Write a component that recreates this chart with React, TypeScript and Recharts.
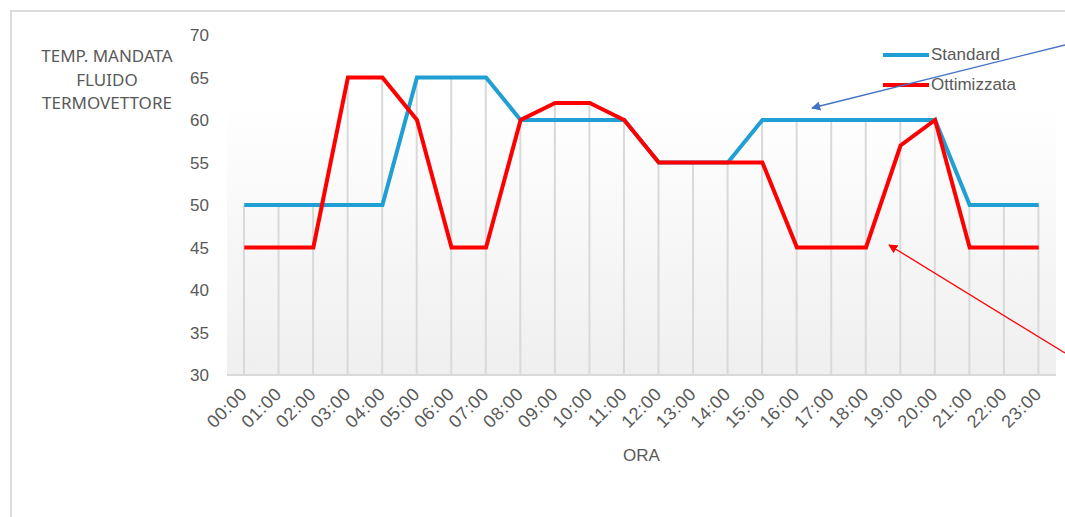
import React from 'react';
import { ComposedChart, Line, Bar, XAxis, YAxis, CartesianGrid, Legend } from 'recharts';

const HOURS = [
  '00:00', '01:00', '02:00', '03:00', '04:00', '05:00', '06:00', '07:00',
  '08:00', '09:00', '10:00', '11:00', '12:00', '13:00', '14:00', '15:00',
  '16:00', '17:00', '18:00', '19:00', '20:00', '21:00', '22:00', '23:00',
];
const STANDARD = [50, 50, 50, 50, 50, 65, 65, 65, 60, 60, 60, 60, 55, 55, 55, 60, 60, 60, 60, 60, 60, 50, 50, 50];
const OTTIMIZZATA = [45, 45, 45, 65, 65, 60, 45, 45, 60, 62, 62, 60, 55, 55, 55, 55, 45, 45, 45, 57, 60, 45, 45, 45];
const Y_TICKS = [30, 35, 40, 45, 50, 55, 60, 65, 70];
const SERIES_ORDER = ['Standard', 'Ottimizzata'];

const data = HOURS.map((h, i) => ({
  ora: h,
  standard: STANDARD[i],
  ottimizzata: OTTIMIZZATA[i],
  drop: Math.max(STANDARD[i], OTTIMIZZATA[i]),
}));

const TEXT = '#595959';
const FONT = '"Liberation Sans", Arial, sans-serif';

const XTick = (props: any) => {
  const { x, y, payload } = props;
  return (
    <text
      x={x + 4}
      y={y + 12}
      transform={`rotate(-45, ${x + 4}, ${y + 12})`}
      textAnchor="end"
      fill={TEXT}
      fontSize={18}
      fontFamily={FONT}
      letterSpacing={0.6}
    >
      {payload.value}
    </text>
  );
};

const LegendBox = (props: any) => {
  const items = (props.payload || [])
    .filter((p: any) => p.dataKey !== 'drop')
    .sort((a: any, b: any) => SERIES_ORDER.indexOf(a.value) - SERIES_ORDER.indexOf(b.value));
  return (
    <div style={{ fontFamily: FONT, fontSize: 17, color: TEXT }}>
      {items.map((p: any) => (
        <div key={p.value} style={{ display: 'flex', alignItems: 'center', height: 30 }}>
          <div style={{ width: 46, height: 4, background: p.color, marginRight: 2 }} />
          <span>{p.value}</span>
        </div>
      ))}
    </div>
  );
};

const App: React.FC = () => {
  return (
    <div style={{ position: 'absolute', left: 0, top: 0, width: 1065, height: 517, background: '#fff', overflow: 'hidden' }}>
      <div
        style={{
          position: 'absolute', left: 10, top: 10, width: 1100, height: 560,
          borderLeft: '2px solid #dcdcdc', borderTop: '2px solid #dcdcdc',
        }}
      />
      <div
        style={{
          position: 'absolute', left: 22, top: 44, width: 170, textAlign: 'center',
          fontFamily: '"Noto Sans", sans-serif', fontSize: 17, lineHeight: '23.5px', color: TEXT,
        }}
      >
        TEMP. MANDATA<br />FLUIDO<br />TERMOVETTORE
      </div>
      <div style={{ position: 'absolute', left: 0, top: 0 }}>
        <ComposedChart
          width={1065}
          height={517}
          data={data}
          margin={{ top: 35, right: 9, bottom: 42, left: 167 }}
          barCategoryGap={0}
        >
          <defs>
            <linearGradient id="plotBg" x1="0" y1="0" x2="0" y2="1">
              <stop offset="0%" stopColor="#ffffff" />
              <stop offset="20%" stopColor="#ffffff" />
              <stop offset="100%" stopColor="#efefef" />
            </linearGradient>
          </defs>
          <CartesianGrid horizontal={false} vertical={false} fill="url(#plotBg)" />
          <XAxis
            dataKey="ora"
            height={100}
            interval={0}
            tickLine={false}
            axisLine={{ stroke: '#d9d9d9', strokeWidth: 2 }}
            tick={<XTick />}
            label={{ value: 'ORA', position: 'insideBottom', offset: 14, fill: TEXT, fontSize: 17, fontFamily: FONT }}
          />
          <YAxis
            width={60}
            domain={[30, 70]}
            ticks={Y_TICKS}
            interval={0}
            axisLine={false}
            tickLine={false}
            tickMargin={12}
            tick={{ fill: TEXT, fontSize: 17, fontFamily: FONT }}
          />
          <Legend
            layout="vertical"
            align="center"
            verticalAlign="middle"
            wrapperStyle={{ top: 40, left: 883, width: 170 }}
            content={<LegendBox />}
          />
          <Bar dataKey="drop" fill="#d9d9d9" barSize={2} isAnimationActive={false} legendType="none" />
          <Line type="linear" dataKey="standard" name="Standard" stroke="#1f9fd4" strokeWidth={4} dot={false} isAnimationActive={false} />
          <Line type="linear" dataKey="ottimizzata" name="Ottimizzata" stroke="#ff0000" strokeWidth={4} dot={false} isAnimationActive={false} />
        </ComposedChart>
      </div>
      <svg style={{ position: 'absolute', left: 0, top: 0 }} width={1065} height={517}>
        <defs>
          <marker id="arrBlue" viewBox="0 0 10 10" refX="9" refY="5" markerWidth="7" markerHeight="7" orient="auto">
            <path d="M0,0 L10,5 L0,10 z" fill="#4472c4" />
          </marker>
          <marker id="arrRed" viewBox="0 0 10 10" refX="9" refY="5" markerWidth="7" markerHeight="7" orient="auto">
            <path d="M0,0 L10,5 L0,10 z" fill="#ff0000" />
          </marker>
        </defs>
        <line x1={1065} y1={45} x2={812} y2={108} stroke="#4472c4" strokeWidth={1.3} markerEnd="url(#arrBlue)" />
        <line x1={1065} y1={353} x2={889} y2={245} stroke="#ff0000" strokeWidth={1.3} markerEnd="url(#arrRed)" />
      </svg>
    </div>
  );
};

export default App;
